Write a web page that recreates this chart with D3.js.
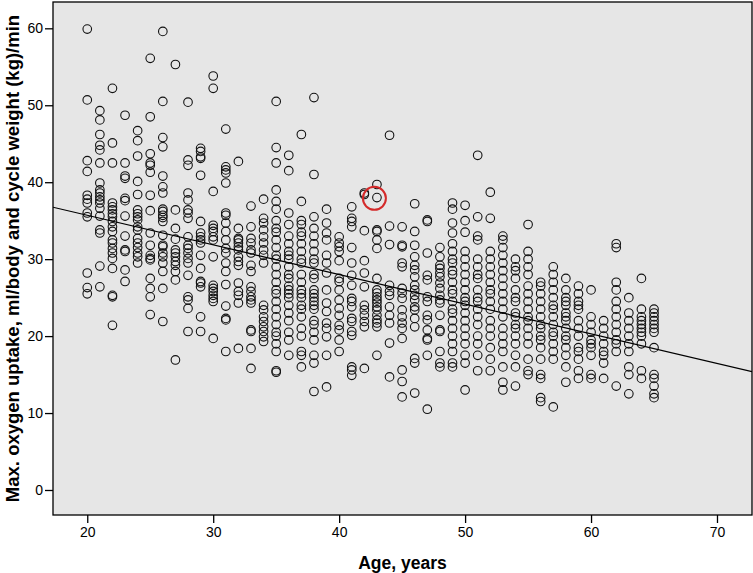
<!DOCTYPE html>
<html>
<head>
<meta charset="utf-8">
<script src="https://cdn.jsdelivr.net/npm/d3@7"></script>
<style>
  body { margin: 0; background: #fff; }
  text { font-family: "Liberation Sans", Arial, sans-serif; }
</style>
</head>
<body>
<div id="chart"></div>
<script>
// data: one list of values per age
var ages = [20, 21, 22, 23, 24, 25, 26, 27, 28, 29, 30, 31, 32, 33, 34, 35, 36, 37, 38, 39, 40, 41, 42,
    43, 44, 45, 46, 47, 48, 49, 50, 51, 52, 53, 54, 55, 56, 57, 58, 59, 60, 61, 62, 63, 64, 65];

var uptake = [
    [59.9, 50.7, 42.8, 41.4, 38.3, 37.8, 37.3, 36.0, 35.5, 28.2, 26.3, 25.5],
    [49.3, 48.1, 46.2, 44.8, 44.2, 42.5, 39.9, 39.0, 38.6, 38.1, 37.7, 37.3, 36.6, 35.6, 33.8, 33.4, 29.1, 26.4],
    [52.2, 45.1, 42.5, 37.3, 36.8, 36.4, 35.9, 35.5, 34.9, 34.2, 33.6, 32.5, 32.1, 31.4, 30.8, 30.1, 28.8, 25.3, 25.1, 21.4],
    [48.7, 42.5, 40.8, 40.5, 37.9, 37.6, 35.6, 33.0, 31.2, 31.0, 28.6, 27.1],
    [46.7, 45.4, 43.4, 40.1, 38.4, 36.4, 35.9, 35.5, 35.1, 34.2, 33.8, 32.7, 32.1, 31.5, 30.8, 30.3, 29.5],
    [56.1, 48.5, 43.7, 42.5, 42.2, 41.3, 38.3, 36.3, 33.4, 31.8, 30.5, 30.1, 29.9, 27.5, 26.2, 25.1, 22.8],
    [59.6, 50.5, 45.8, 44.6, 40.8, 39.4, 38.6, 36.5, 36.2, 35.7, 35.4, 34.9, 33.1, 31.8, 31.6, 30.8, 30.3, 29.5, 28.4, 26.2, 21.9],
    [55.3, 36.4, 34.0, 32.6, 31.2, 30.8, 30.3, 29.7, 29.2, 28.4, 27.3, 16.9],
    [50.4, 42.9, 42.2, 38.6, 37.7, 36.4, 36.0, 35.3, 32.9, 31.8, 31.4, 30.8, 30.1, 29.5, 27.9, 25.1, 24.7, 23.6, 20.6],
    [44.4, 44.0, 43.3, 43.1, 40.9, 34.9, 33.4, 32.9, 32.5, 32.1, 30.5, 28.8, 27.1, 26.9, 26.4, 22.5, 20.6],
    [53.8, 52.2, 38.8, 34.4, 34.0, 33.6, 32.9, 32.5, 30.3, 26.6, 26.2, 25.8, 25.3, 24.9, 24.5, 19.7],
    [46.9, 42.0, 41.6, 41.2, 39.9, 36.0, 35.7, 34.7, 33.6, 32.5, 31.4, 30.8, 29.5, 28.4, 26.7, 23.9, 22.3, 22.1, 18.0],
    [42.7, 34.0, 32.7, 32.5, 32.1, 31.6, 31.2, 30.3, 29.7, 29.2, 26.9, 25.8, 25.3, 24.3, 18.4],
    [36.9, 34.2, 32.7, 32.1, 31.2, 30.8, 29.2, 28.4, 26.4, 25.8, 25.1, 24.7, 24.3, 20.8, 20.6, 18.4, 15.8],
    [37.8, 35.3, 34.7, 33.8, 32.9, 32.1, 31.2, 30.5, 29.5, 24.0, 23.4, 22.5, 21.9, 21.2, 20.6, 19.9, 19.3],
    [50.5, 44.5, 42.5, 39.0, 37.5, 36.5, 35.0, 34.0, 33.5, 32.5, 31.5, 30.5, 30.0, 29.0, 28.0, 27.0, 26.0, 25.5, 24.5, 23.5, 22.5, 21.5, 20.5, 20.0, 19.0, 18.0, 15.5, 15.3],
    [43.5, 41.5, 36.0, 34.5, 33.0, 32.0, 31.0, 30.5, 30.0, 29.0, 28.0, 27.5, 26.5, 26.0, 25.5, 25.0, 24.0, 23.0, 22.0, 20.5, 19.5, 17.5],
    [46.2, 37.5, 35.0, 34.5, 33.5, 33.0, 32.0, 31.0, 30.0, 29.5, 28.0, 27.0, 26.0, 25.5, 25.0, 24.0, 23.5, 22.5, 21.0, 20.0, 18.0, 17.5, 16.0],
    [51.0, 41.0, 35.5, 34.0, 33.0, 32.0, 31.0, 30.0, 29.5, 28.0, 27.5, 26.0, 25.5, 25.0, 24.5, 24.0, 23.5, 22.0, 21.5, 20.5, 19.5, 17.5, 16.5, 12.8],
    [36.5, 34.7, 33.4, 32.5, 30.5, 29.5, 28.2, 26.0, 24.3, 23.2, 21.7, 21.0, 19.9, 17.5, 13.4],
    [32.9, 32.1, 31.6, 31.0, 29.8, 27.5, 27.1, 26.0, 24.7, 23.6, 22.7, 21.4, 20.8, 19.5, 18.0],
    [36.8, 35.3, 34.9, 34.2, 31.5, 29.5, 27.9, 26.6, 24.9, 24.5, 23.8, 22.3, 21.9, 20.6, 20.1, 16.0, 15.6, 14.9],
    [38.6, 38.4, 33.7, 29.8, 28.2, 26.4, 24.0, 23.4, 22.7, 21.9, 21.2, 15.8],
    [39.7, 38.0, 33.8, 33.6, 32.5, 31.4, 27.5, 26.0, 25.6, 25.1, 24.7, 24.3, 23.8, 23.4, 22.7, 22.1, 21.7, 21.2, 17.5],
    [46.1, 34.3, 31.9, 26.6, 25.8, 25.3, 23.8, 22.7, 21.7, 19.1, 14.7],
    [34.2, 31.8, 31.6, 29.5, 29.0, 26.2, 25.6, 24.9, 23.4, 22.5, 21.7, 21.0, 19.7, 15.6, 14.1, 12.1],
    [37.2, 33.6, 31.8, 30.3, 29.2, 28.6, 27.7, 26.6, 26.0, 25.3, 24.7, 23.8, 23.4, 22.3, 21.2, 17.1, 16.5, 12.6],
    [35.1, 34.9, 30.8, 27.9, 27.3, 25.1, 24.5, 22.7, 22.1, 20.8, 19.7, 19.5, 17.5, 10.5],
    [31.5, 30.3, 29.2, 28.8, 28.2, 27.7, 26.9, 26.2, 25.3, 24.7, 24.3, 22.7, 20.8, 20.6, 18.0, 16.5, 16.0],
    [37.3, 36.5, 34.7, 33.4, 32.0, 31.0, 30.0, 29.5, 28.5, 28.0, 27.0, 26.0, 25.5, 24.5, 23.5, 23.0, 22.0, 21.0, 20.0, 19.0, 18.0, 16.5, 16.0],
    [37.0, 35.0, 33.5, 31.0, 30.0, 29.0, 28.0, 27.0, 26.0, 25.0, 24.5, 24.0, 23.0, 22.0, 21.0, 20.0, 19.0, 17.5, 16.5, 13.0],
    [43.5, 35.5, 33.0, 32.5, 30.0, 29.0, 28.0, 27.5, 26.0, 25.0, 24.5, 23.5, 22.5, 21.5, 20.0, 19.0, 17.5, 15.5],
    [38.7, 35.3, 31.0, 30.0, 29.0, 28.0, 27.0, 26.0, 25.5, 24.5, 23.5, 22.0, 21.0, 20.0, 18.5, 17.0, 15.5],
    [33.0, 32.5, 31.5, 30.5, 29.5, 28.5, 27.5, 26.5, 25.5, 24.5, 23.5, 22.5, 21.0, 20.0, 19.0, 18.0, 16.0, 14.0, 13.0],
    [30.0, 29.0, 28.5, 27.5, 26.0, 25.0, 24.5, 23.0, 22.5, 21.5, 21.0, 20.0, 19.0, 17.5, 16.0, 13.5],
    [34.5, 31.0, 30.0, 29.0, 28.0, 26.5, 25.5, 24.5, 23.5, 22.5, 22.0, 21.0, 20.0, 19.0, 17.0, 15.5, 15.0],
    [27.0, 26.5, 25.5, 24.5, 23.5, 22.5, 21.5, 21.0, 20.0, 19.5, 18.5, 17.0, 15.0, 14.5, 12.0, 11.5],
    [29.0, 28.0, 27.0, 26.0, 25.0, 24.0, 23.5, 22.5, 21.5, 20.5, 20.0, 19.0, 18.0, 17.0, 10.8],
    [27.5, 26.0, 25.0, 24.5, 24.0, 23.0, 22.5, 22.0, 21.0, 20.0, 19.5, 18.5, 17.5, 16.0, 14.0],
    [26.5, 25.5, 24.5, 24.0, 23.5, 22.0, 21.0, 20.0, 18.5, 18.0, 17.0, 15.5, 14.5],
    [26.0, 22.5, 21.5, 20.5, 19.5, 19.0, 18.5, 17.5, 15.0, 14.5],
    [22.0, 21.0, 20.0, 19.0, 18.0, 17.5, 16.5, 14.5],
    [32.0, 31.5, 27.0, 26.0, 24.5, 23.5, 22.5, 21.5, 20.5, 19.5, 19.0, 18.0, 13.5],
    [25.0, 23.0, 22.0, 21.0, 20.0, 19.0, 18.0, 16.0, 15.0, 12.5],
    [27.5, 23.5, 22.5, 22.0, 21.5, 21.0, 20.5, 20.0, 19.0, 15.5, 14.5],
    [23.5, 23.0, 22.5, 22.0, 21.5, 21.0, 20.5, 18.5, 15.0, 14.5, 13.5, 12.5, 12.0]
];

var xTicks = [20, 30, 40, 50, 60, 70];
var yTicks = [0, 10, 20, 30, 40, 50, 60];

// fitted line: intercept, slope
var fit = [43.4, -0.385];

// the ringed subject
var marked = {age: 42.8, value: 37.9};

// set parameters
var svgWidth = 753;
var svgHeight = 573;
var plot = {left: 53, right: 752, top: 2, bottom: 515};

var svg = d3.select("#chart")
    .append("svg")
    .attr("width", svgWidth)
    .attr("height", svgHeight);

var xScale = d3.scaleLinear()
    .domain([17.28, 72.78])
    .range([plot.left, plot.right]);

var yScale = d3.scaleLinear()
    .domain([-3.25, 63.42])
    .range([plot.bottom, plot.top]);

// plot background
svg.append("rect")
    .attr("x", plot.left)
    .attr("y", plot.top)
    .attr("width", plot.right - plot.left)
    .attr("height", plot.bottom - plot.top)
    .attr("fill", "#e6e6e6");

// axes
var bottomAxis = d3.axisBottom(xScale).tickValues(xTicks).tickSize(8).tickPadding(4);
var leftAxis = d3.axisLeft(yScale).tickValues(yTicks).tickSize(8).tickPadding(2);

var gx = svg.append("g")
    .attr("transform", `translate(0, ${plot.bottom})`)
    .call(bottomAxis);

var gy = svg.append("g")
    .attr("transform", `translate(${plot.left}, 0)`)
    .call(leftAxis);

[gx, gy].forEach(function(g) {
    g.select(".domain").remove();
    g.selectAll("line").attr("stroke", "#000").attr("stroke-width", 1.3);
    g.selectAll("text")
        .attr("fill", "#000")
        .style("font-size", "14px")
        .style("font-family", "'Liberation Sans', Arial, sans-serif");
});

// points
var points = [];
ages.forEach(function(a, i) {
    uptake[i].forEach(function(v) {
        points.push({age: a, value: v});
    });
});

svg.append("clipPath").attr("id", "clip")
    .append("rect")
    .attr("x", plot.left)
    .attr("y", plot.top)
    .attr("width", plot.right - plot.left)
    .attr("height", plot.bottom - plot.top);

var chartGroup = svg.append("g").attr("clip-path", "url(#clip)");

chartGroup.selectAll("circle.pt")
    .data(points)
    .enter()
    .append("circle")
    .attr("class", "pt")
    .attr("cx", d => xScale(d.age))
    .attr("cy", d => yScale(d.value))
    .attr("r", 4.3)
    .attr("fill", "none")
    .attr("stroke", "#111")
    .attr("stroke-width", 1.1);

// regression line across the whole plot
var xDom = xScale.domain();
chartGroup.append("line")
    .attr("x1", xScale(xDom[0]))
    .attr("y1", yScale(fit[0] + fit[1] * xDom[0]))
    .attr("x2", xScale(xDom[1]))
    .attr("y2", yScale(fit[0] + fit[1] * xDom[1]))
    .attr("stroke", "#000")
    .attr("stroke-width", 1.2);

// red ring
chartGroup.append("circle")
    .attr("cx", xScale(marked.age))
    .attr("cy", yScale(marked.value))
    .attr("r", 11.5)
    .attr("fill", "none")
    .attr("stroke", "#d42a2a")
    .attr("stroke-width", 2);

// plot border
svg.append("rect")
    .attr("x", plot.left)
    .attr("y", plot.top)
    .attr("width", plot.right - plot.left)
    .attr("height", plot.bottom - plot.top)
    .attr("fill", "none")
    .attr("stroke", "#000")
    .attr("stroke-width", 1.3);

// axis titles
svg.append("text")
    .attr("x", (plot.left + plot.right) / 2)
    .attr("y", 569)
    .attr("text-anchor", "middle")
    .style("font-size", "17.5px")
    .style("font-weight", "bold")
    .text("Age, years");

svg.append("text")
    .attr("transform", `translate(19, ${(plot.top + plot.bottom) / 2}) rotate(-90)`)
    .attr("text-anchor", "middle")
    .style("font-size", "18.5px")
    .style("font-weight", "bold")
    .text("Max. oxygen uptake, ml/body and cycle weight (kg)/min");
</script>
</body>
</html>
